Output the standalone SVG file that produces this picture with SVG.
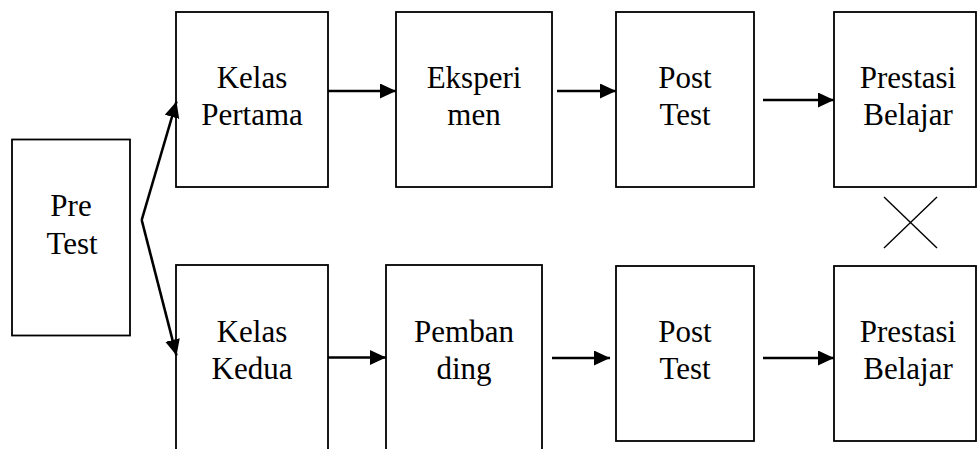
<svg xmlns="http://www.w3.org/2000/svg" width="977" height="449" viewBox="0 0 977 449">
<style>
.box{fill:#fff;stroke:#000;stroke-width:1.8}
.t{font-family:"Times New Roman","Liberation Serif","DejaVu Serif",serif;font-size:31px;fill:#000;text-anchor:middle}
.arr{stroke:#000;stroke-width:2.6;fill:none;marker-end:url(#ah)}
.x{stroke:#000;stroke-width:1.4;fill:none}
</style>
<defs>
<marker id="ah" markerUnits="userSpaceOnUse" markerWidth="18" markerHeight="16" refX="16" refY="7.5" orient="auto">
<path d="M0,0 L16,7.5 L0,15 z" fill="#000"/>
</marker>
</defs>
<rect width="977" height="449" fill="#fff"/>
<g id="pretest"><rect class="box" x="12" y="139.5" width="118" height="196"/><text class="t" x="71" y="216">Pre</text><text class="t" x="72" y="254">Test</text></g>
<g id="kelas-pertama"><rect class="box" x="176" y="12" width="152" height="175"/><text class="t" x="252" y="88">Kelas</text><text class="t" x="252" y="124.5">Pertama</text></g>
<g id="eksperimen"><rect class="box" x="396" y="12" width="156" height="175"/><text class="t" x="474" y="88">Eksperi</text><text class="t" x="474" y="124.5">men</text></g>
<g id="posttest-1"><rect class="box" x="616" y="12" width="138" height="175"/><text class="t" x="685" y="88">Post</text><text class="t" x="685" y="124.5">Test</text></g>
<g id="prestasi-1"><rect class="box" x="834" y="12" width="142" height="175"/><text class="t" x="908" y="88">Prestasi</text><text class="t" x="908" y="124.5">Belajar</text></g>
<g id="kelas-kedua"><rect class="box" x="176" y="265" width="152" height="200"/><text class="t" x="252" y="342">Kelas</text><text class="t" x="252" y="379">Kedua</text></g>
<g id="pembanding"><rect class="box" x="386" y="265" width="156" height="200"/><text class="t" x="464" y="342">Pemban</text><text class="t" x="464" y="379">ding</text></g>
<g id="posttest-2"><rect class="box" x="616" y="266" width="138" height="175"/><text class="t" x="685" y="342">Post</text><text class="t" x="685" y="379">Test</text></g>
<g id="prestasi-2"><rect class="box" x="834" y="266" width="142" height="175"/><text class="t" x="908" y="342">Prestasi</text><text class="t" x="908" y="379">Belajar</text></g>
<g id="connectors">
<line class="arr" x1="141.7" y1="220" x2="176.5" y2="101.5"/>
<line class="arr" x1="141.7" y1="220" x2="176.5" y2="355.5"/>
<line class="arr" x1="328" y1="91" x2="396" y2="91"/>
<line class="arr" x1="557" y1="91" x2="616" y2="91"/>
<line class="arr" x1="763" y1="100" x2="834" y2="100"/>
<line class="arr" x1="328" y1="357.5" x2="386" y2="357.5"/>
<line class="arr" x1="552" y1="358" x2="610" y2="358"/>
<line class="arr" x1="763" y1="358" x2="834" y2="358"/>
<line class="x" x1="884" y1="197" x2="937" y2="248"/>
<line class="x" x1="937" y1="197" x2="884" y2="248"/>
</g>
</svg>
